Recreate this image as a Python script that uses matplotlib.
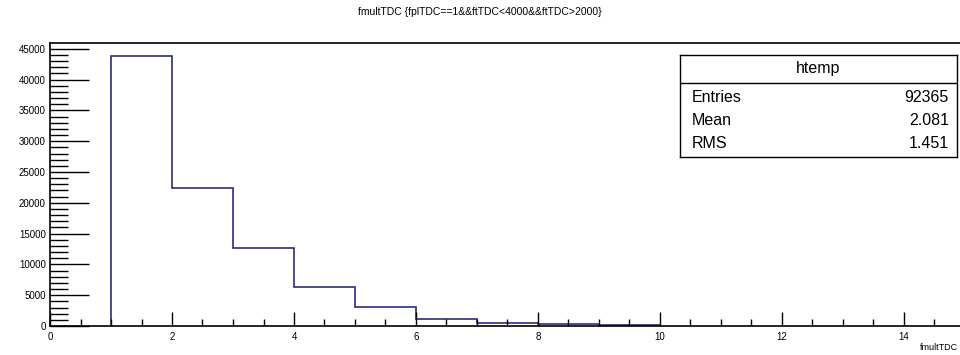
import numpy as np
import matplotlib
matplotlib.use("Agg")
from matplotlib import pyplot as plt
from matplotlib.ticker import MultipleLocator

plt.rcParams['font.family'] = ['Liberation Sans', 'DejaVu Sans']

# histogram contents
bin_edges = [1, 2, 3, 4, 5, 6, 7, 8, 9, 10]
counts = [43750, 22470, 12670, 6370, 3020, 1200, 550, 270, 110]
title = "fmultTDC {fplTDC==1&&ftTDC<4000&&ftTDC>2000}"
stats_name = "htemp"
stats_rows = [("Entries", "92365"), ("Mean", "2.081"), ("RMS", "1.451")]

W, H = 960, 355
fig = plt.figure(figsize=(9.6, 3.55), dpi=100)
# frame runs past the right edge of the canvas, as in the reference
x0, x1, y0, y1 = 50, 965, 43, 326
ax = fig.add_axes([x0 / W, 1 - y1 / H, (x1 - x0) / W, (y1 - y0) / H])

ax.stairs(counts, bin_edges, color="#2b2b80", lw=1.2, baseline=0)
ax.set_xlim(0, 15)
ax.set_ylim(0, max(counts) * 1.05)

ax.xaxis.set_major_locator(MultipleLocator(2))
ax.xaxis.set_minor_locator(MultipleLocator(0.5))
ax.yaxis.set_major_locator(MultipleLocator(5000))
ax.yaxis.set_minor_locator(MultipleLocator(1000))
ax.tick_params(axis="both", which="both", direction="in", top=False,
               right=False, labelsize=7, width=1, color="black")
ax.tick_params(axis="y", which="major", length=28, pad=3)
ax.tick_params(axis="y", which="minor", length=13)
ax.tick_params(axis="x", which="major", length=10, pad=4)
ax.tick_params(axis="x", which="minor", length=5)
for s in ax.spines.values():
    s.set_linewidth(1.2)

# axis title sits at the right end (kept inside the canvas)
fig.text(958 / W, 1 - 348 / H, "fmultTDC", ha="right", va="center",
         fontsize=6.5)
fig.text(0.5, 1 - 12 / H, title, ha="center", va="center", fontsize=7.5)

# stats box
bx0, bx1, by0, by1, bh = 680, 957, 55, 157, 83
box = fig.add_axes([bx0 / W, 1 - by1 / H, (bx1 - bx0) / W, (by1 - by0) / H])
box.set_xlim(bx0, bx1)
box.set_ylim(by1, by0)
box.set_xticks([])
box.set_yticks([])
for s in box.spines.values():
    s.set_linewidth(1)
box.axhline(bh, color="black", lw=1)
box.text((bx0 + bx1) / 2, 69, stats_name, ha="center", va="center",
         fontsize=11.5)
for (k, v), yy in zip(stats_rows, [98, 120.5, 143]):
    box.text(bx0 + 12, yy, k, ha="left", va="center", fontsize=11.5)
    box.text(bx1 - 8, yy, v, ha="right", va="center", fontsize=11.5)

fig.savefig("out.png", dpi=100)
